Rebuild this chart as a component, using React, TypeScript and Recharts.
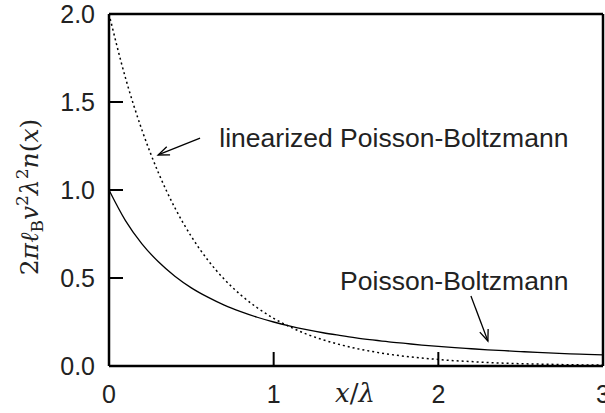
import React from 'react';
import { LineChart, Line, XAxis, YAxis, ReferenceLine, ReferenceDot } from 'recharts';

const xValues = [0, 0.1, 0.2, 0.3, 0.4, 0.5, 0.6, 0.7, 0.8, 0.9, 1.0, 1.1, 1.2, 1.3, 1.4, 1.5, 1.6, 1.7, 1.8, 1.9, 2.0, 2.1, 2.2, 2.3, 2.4, 2.5, 2.6, 2.7, 2.8, 2.9, 3.0];
const pbValues = [1.0, 0.826, 0.694, 0.592, 0.51, 0.444, 0.391, 0.346, 0.309, 0.277, 0.25, 0.227, 0.207, 0.189, 0.174, 0.16, 0.148, 0.137, 0.128, 0.119, 0.111, 0.104, 0.098, 0.092, 0.087, 0.082, 0.077, 0.073, 0.069, 0.066, 0.063];
const linValues = [2.0, 1.637, 1.341, 1.098, 0.899, 0.736, 0.602, 0.493, 0.404, 0.331, 0.271, 0.222, 0.181, 0.149, 0.122, 0.1, 0.082, 0.067, 0.055, 0.045, 0.037, 0.03, 0.025, 0.02, 0.016, 0.013, 0.011, 0.009, 0.007, 0.006, 0.005];
const xTicks = [0, 1, 2, 3];
const yTicks = [0, 0.5, 1.0, 1.5, 2.0];
const linLabel = 'linearized Poisson-Boltzmann';
const pbLabel = 'Poisson-Boltzmann';

const data = xValues.map((x, i) => ({ x, pb: pbValues[i], lin: linValues[i] }));

const SANS = '"Liberation Sans", Arial, sans-serif';
const SERIF = '"DejaVu Serif", serif';

const Arrow = (p: any) => {
  const { x1, y1, x2, y2 } = p;
  const ang = Math.atan2(y2 - y1, x2 - x1);
  const L = 12;
  const a = 0.38;
  const ax = x2 - L * Math.cos(ang - a);
  const ay = y2 - L * Math.sin(ang - a);
  const bx = x2 - L * Math.cos(ang + a);
  const by = y2 - L * Math.sin(ang + a);
  return (
    <g stroke="#000" strokeWidth={1.3} fill="none">
      <line x1={x1} y1={y1} x2={x2} y2={y2} />
      <polyline points={`${ax},${ay} ${x2},${y2} ${bx},${by}`} />
    </g>
  );
};

const makeText = (txt: string) => (p: any) => (
  <text x={p.cx} y={p.cy} textAnchor="end" fontFamily={SANS} fontSize={26.5} fill="#222">
    {txt}
  </text>
);

const YLabel = (p: any) => {
  const vb = p.viewBox || { x: 0, y: 14, width: 109, height: 352 };
  const cx = vb.x + 38;
  const cy = vb.y + vb.height / 2 + 7;
  return (
    <text transform={`rotate(-90, ${cx}, ${cy})`} x={cx} y={cy} textAnchor="middle" fontFamily={SERIF} fontSize={25} fill="#222">
      <tspan>2</tspan>
      <tspan fontStyle="italic">πℓ</tspan>
      <tspan fontSize={17} dy={5}>B</tspan>
      <tspan fontStyle="italic" dy={-5}>v</tspan>
      <tspan fontSize={17} dy={-10}>2</tspan>
      <tspan fontStyle="italic" dy={10}>λ</tspan>
      <tspan fontSize={17} dy={-10}>2</tspan>
      <tspan fontStyle="italic" dy={10}>n</tspan>
      <tspan>(</tspan>
      <tspan fontStyle="italic">x</tspan>
      <tspan>)</tspan>
    </text>
  );
};

const XLabel = (p: any) => {
  const vb = p.viewBox || { x: 109, y: 366, width: 494, height: 47 };
  return (
    <text x={vb.x + 246} y={vb.y + 36} textAnchor="middle" fontFamily={SERIF} fontSize={26} fill="#222">
      <tspan fontStyle="italic">x</tspan>
      <tspan>/</tspan>
      <tspan fontStyle="italic">λ</tspan>
    </text>
  );
};

const axisLine = { stroke: '#000', strokeWidth: 2.5 };
const tickLine = { stroke: '#000', strokeWidth: 2 };
const tickStyle = { fontFamily: SANS, fontSize: 25, fill: '#222' };

export default function App() {
  return (
    <div style={{ position: 'absolute', left: 0, top: 0, width: 605, height: 413, background: '#fff' }}>
      <LineChart width={605} height={413} data={data} margin={{ top: 13, right: 1, bottom: 0, left: 0 }}>
        <XAxis
          dataKey="x"
          type="number"
          domain={[0, 3]}
          ticks={xTicks}
          height={47}
          axisLine={axisLine}
          tickLine={tickLine}
          tickSize={-14}
          tickMargin={33}
          tick={tickStyle}
          tickFormatter={(v: number) => String(v)}
          interval={0}
          label={{ content: XLabel }}
        />
        <XAxis
          xAxisId="top"
          orientation="top"
          dataKey="x"
          type="number"
          domain={[0, 3]}
          ticks={xTicks}
          height={1}
          axisLine={axisLine}
          tickLine={tickLine}
          tickSize={-14}
          tick={false}
          interval={0}
        />
        <YAxis
          type="number"
          domain={[0, 2]}
          ticks={yTicks}
          width={109}
          axisLine={axisLine}
          tickLine={tickLine}
          tickSize={-14}
          tickMargin={28}
          tick={tickStyle}
          tickFormatter={(v: number) => v.toFixed(1)}
          interval={0}
          label={{ content: YLabel }}
        />
        <YAxis
          yAxisId="right"
          orientation="right"
          type="number"
          domain={[0, 2]}
          ticks={yTicks}
          width={1}
          axisLine={axisLine}
          tickLine={tickLine}
          tickSize={-14}
          tick={false}
          interval={0}
        />
        <Line type="monotone" dataKey="lin" stroke="#000" strokeWidth={1.5} strokeDasharray="2 3" dot={false} isAnimationActive={false} />
        <Line type="monotone" dataKey="pb" stroke="#000" strokeWidth={1.3} dot={false} isAnimationActive={false} />
        <ReferenceLine segment={[{ x: 0.553, y: 1.295 }, { x: 0.298, y: 1.199 }]} shape={Arrow} ifOverflow="visible" />
        <ReferenceLine segment={[{ x: 2.198, y: 0.398 }, { x: 2.301, y: 0.142 }]} shape={Arrow} ifOverflow="visible" />
        <ReferenceDot x={2.79} y={1.244} r={0} shape={makeText(linLabel)} ifOverflow="visible" />
        <ReferenceDot x={2.79} y={0.432} r={0} shape={makeText(pbLabel)} ifOverflow="visible" />
      </LineChart>
    </div>
  );
}
